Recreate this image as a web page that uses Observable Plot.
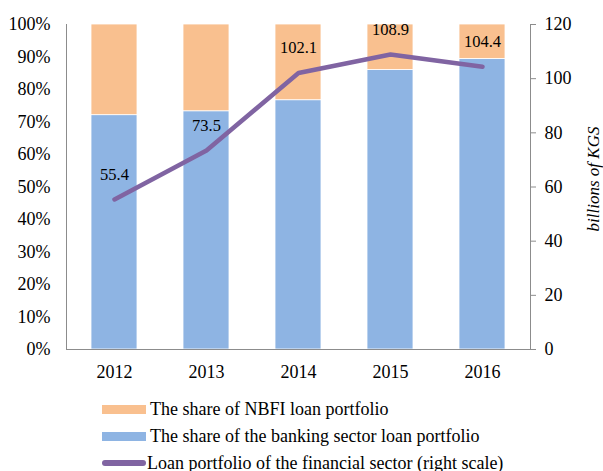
<!DOCTYPE html>
<html>
<head>
<meta charset="utf-8">
<script src="https://cdn.jsdelivr.net/npm/d3@7"></script>
<script src="https://cdn.jsdelivr.net/npm/@observablehq/plot@0.6"></script>
<style>
  body { margin: 0; background: #fff; font-family: "Liberation Serif", "DejaVu Serif", serif; }
  svg text, svg { font-family: "Liberation Serif", "DejaVu Serif", serif !important; }
  #legend { position: relative; width: 603px; height: 81px; font-size: 18px; color: #000; }
  .item { position: absolute; left: 102px; display: flex; align-items: center; height: 20px; white-space: nowrap; }
  .sw { width: 44px; height: 9px; margin-right: 4px; }
  .ln { width: 44px; height: 6px; border-radius: 3px; margin-right: 1px; }
</style>
</head>
<body>
<div id="chart"></div>
<div id="legend"></div>
<script>
const years = ["2012", "2013", "2014", "2015", "2016"];
const bankShare = [72.1, 73.3, 76.7, 86.0, 89.4];
const nbfiShare = [27.9, 26.7, 23.3, 14.0, 10.6];
const portfolio = [55.4, 73.5, 102.1, 108.9, 104.4];
const leftTicks = [0, 10, 20, 30, 40, 50, 60, 70, 80, 90, 100];
const rightTicks = [0, 20, 40, 60, 80, 100, 120];
const rightMax = 120;

const seriesNames = ["The share of the banking sector loan portfolio", "The share of NBFI loan portfolio"];
const lineName = "Loan portfolio of the financial sector (right scale)";
const colors = {bank: "#8EB4E3", nbfi: "#F9C08F", line: "#8064A2"};
const FONT = "'Liberation Serif', 'DejaVu Serif', serif";

const bars = [];
years.forEach((y, i) => {
  bars.push({year: y, series: "bank", value: bankShare[i]});
  bars.push({year: y, series: "nbfi", value: nbfiShare[i]});
});
const line = years.map((y, i) => ({year: y, value: portfolio[i]}));
const toLeft = v => v / rightMax * 100;

const chart = Plot.plot({
  width: 603,
  height: 390,
  marginTop: 24,
  marginBottom: 41,
  marginLeft: 66,
  marginRight: 73,
  style: {fontFamily: FONT, fontSize: "18px", color: "#000", background: "#fff"},
  x: {domain: years, paddingInner: 0.5, paddingOuter: 0.25, label: null},
  y: {domain: [0, 100], label: null},
  marks: [
    Plot.barY(bars, Plot.stackY({
      x: "year", y: "value", z: "series", order: ["bank", "nbfi"],
      fill: d => d.series === "bank" ? colors.bank : colors.nbfi,
      stroke: "#fff", strokeWidth: 0.8
    })),
    Plot.frame({anchor: "left", stroke: "#8c8c8c"}),
    Plot.frame({anchor: "right", stroke: "#8c8c8c"}),
    Plot.ruleY([0], {stroke: "#8c8c8c"}),
    Plot.axisY({anchor: "left", ticks: leftTicks, tickFormat: d => d + "%", tickSize: 0, tickPadding: 16, label: null, fontSize: 18, fontFamily: FONT}),
    Plot.axisY({anchor: "right", ticks: rightTicks.map(toLeft), tickFormat: d => String(Math.round(d * rightMax / 100)), tickSize: 5, tickPadding: 9, stroke: "#8c8c8c", label: null, fontSize: 18, fontFamily: FONT}),
    Plot.axisX({tickSize: 0, tickPadding: 16, label: null, fontSize: 18, fontFamily: FONT}),
    Plot.lineY(line, {x: "year", y: d => toLeft(d.value), stroke: colors.line, strokeWidth: 4.5, strokeLinecap: "round", strokeLinejoin: "round"}),
    Plot.text(line, {x: "year", y: d => toLeft(d.value), text: d => d.value.toFixed(1), dy: -25, fontSize: 16.5, fill: "#000", fontFamily: FONT}),
    Plot.text(["billions of KGS"], {frameAnchor: "right", textAnchor: "middle", rotate: -90, dx: 63, dy: -8, fontStyle: "italic", fontSize: 17, fill: "#000", fontFamily: FONT})
  ]
});
document.getElementById("chart").appendChild(chart);

const legend = document.getElementById("legend");
const items = [
  {label: seriesNames[1], type: "sw", color: colors.nbfi, top: 9},
  {label: seriesNames[0], type: "sw", color: colors.bank, top: 36},
  {label: lineName, type: "ln", color: colors.line, top: 63}
];
items.forEach(it => {
  const div = document.createElement("div");
  div.className = "item";
  div.style.top = it.top + "px";
  const sw = document.createElement("span");
  sw.className = it.type;
  sw.style.background = it.color;
  const tx = document.createElement("span");
  tx.textContent = it.label;
  div.appendChild(sw);
  div.appendChild(tx);
  legend.appendChild(div);
});
</script>
</body>
</html>
